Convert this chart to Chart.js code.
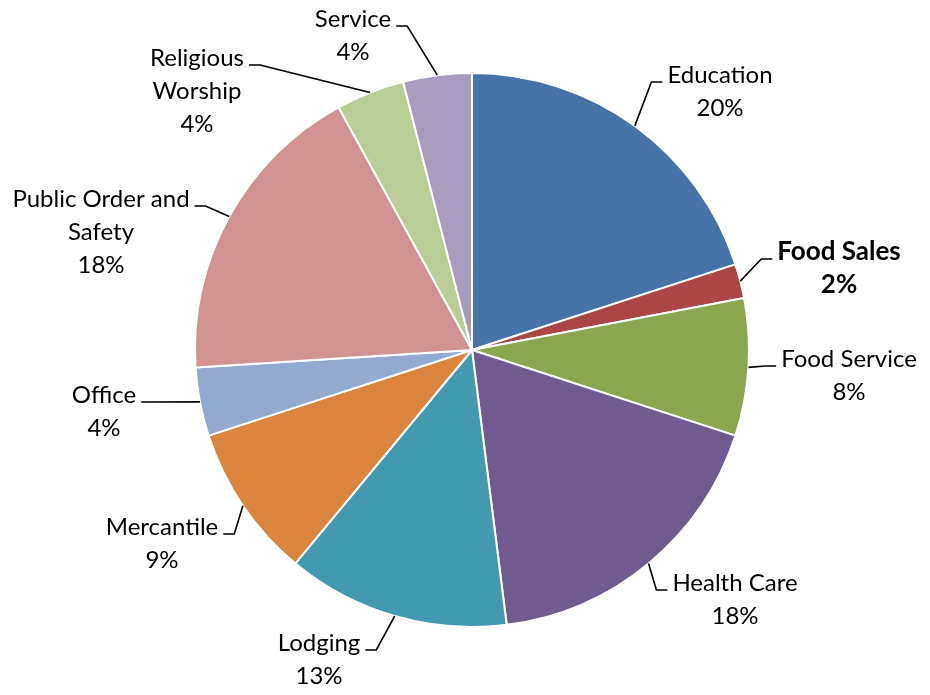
<!DOCTYPE html>
<html>
<head>
<meta charset="utf-8">
<script src="https://cdn.jsdelivr.net/npm/chart.js@4/dist/chart.umd.min.js"></script>
<style>
  html, body { margin: 0; padding: 0; background: #ffffff; }
  #wrap { width: 930px; height: 695px; position: relative; }
</style>
</head>
<body>
<div id="wrap"><canvas id="pie" width="930" height="695"></canvas></div>
<script>
// Building types and their share of the total (percent)
const categories = [
  'Education', 'Food Sales', 'Food Service', 'Health Care', 'Lodging',
  'Mercantile', 'Office', ['Public Order and', 'Safety'], ['Religious', 'Worship'], 'Service'
];
const shares = [20, 2, 8, 18, 13, 9, 4, 18, 4, 4];
const sliceColors = [
  '#4674A8', '#AA4744', '#8AA64F', '#715A8F', '#4299B0',
  '#DB843D', '#93A9D0', '#D19392', '#B9CD97', '#A99BBD'
];

// Where each label block sits: centre x and baseline of its first line
const labelPlacement = [
  { x: 720, y: 83 },
  { x: 839, y: 260, bold: true },
  { x: 849, y: 367 },
  { x: 735, y: 591 },
  { x: 319, y: 651 },
  { x: 162, y: 535 },
  { x: 104, y: 403 },
  { x: 101, y: 207 },
  { x: 197, y: 66 },
  { x: 353, y: 27 }
];

const FONT = 'Lato, "Liberation Sans", sans-serif';
const FONT_SIZE = 24;
const BOLD_SIZE = 26;
const LINE_GAP = 33;

// Category name plus percentage, with a leader line to the slice edge
const calloutLabels = {
  id: 'calloutLabels',
  afterDatasetsDraw(chart) {
    const ctx = chart.ctx;
    const meta = chart.getDatasetMeta(0);
    const total = shares.reduce((a, b) => a + b, 0);
    ctx.save();
    meta.data.forEach((arc, i) => {
      const p = arc.getProps(['x', 'y', 'startAngle', 'endAngle', 'outerRadius'], true);
      const mid = (p.startAngle + p.endAngle) / 2;
      const ax = p.x + Math.cos(mid) * p.outerRadius;
      const ay = p.y + Math.sin(mid) * p.outerRadius;

      const place = labelPlacement[i];
      const name = categories[i];
      const lines = (Array.isArray(name) ? name.slice() : [name]);
      lines.push(Math.round(shares[i] / total * 100) + '%');

      ctx.font = place.bold ? ('bold ' + BOLD_SIZE + 'px ' + FONT) : (FONT_SIZE + 'px ' + FONT);
      ctx.fillStyle = '#000000';
      ctx.textAlign = 'center';
      ctx.textBaseline = 'alphabetic';
      lines.forEach((t, k) => ctx.fillText(t, place.x, place.y + k * LINE_GAP));

      // leader line: short horizontal run beside the first line, then to the slice
      const w = ctx.measureText(lines[0]).width;
      const onLeft = place.x < ax;
      const dir = onLeft ? 1 : -1;
      const sx = place.x + dir * (w / 2 + 5);
      const ex = sx + dir * 11;
      const ly = place.y - 1;
      ctx.strokeStyle = '#000000';
      ctx.lineWidth = 1.6;
      ctx.beginPath();
      ctx.moveTo(sx, ly);
      ctx.lineTo(ex, ly);
      ctx.lineTo(ax, ay);
      ctx.stroke();
    });
    ctx.restore();
  }
};

new Chart(document.getElementById('pie'), {
  type: 'pie',
  data: {
    labels: categories,
    datasets: [{
      data: shares,
      backgroundColor: sliceColors,
      borderColor: '#ffffff',
      borderWidth: 2
    }]
  },
  options: {
    responsive: false,
    animation: false,
    layout: { padding: { left: 194, right: 180, top: 72, bottom: 67 } },
    plugins: {
      legend: { display: false },
      tooltip: { enabled: false }
    }
  },
  plugins: [calloutLabels]
});
</script>
</body>
</html>
